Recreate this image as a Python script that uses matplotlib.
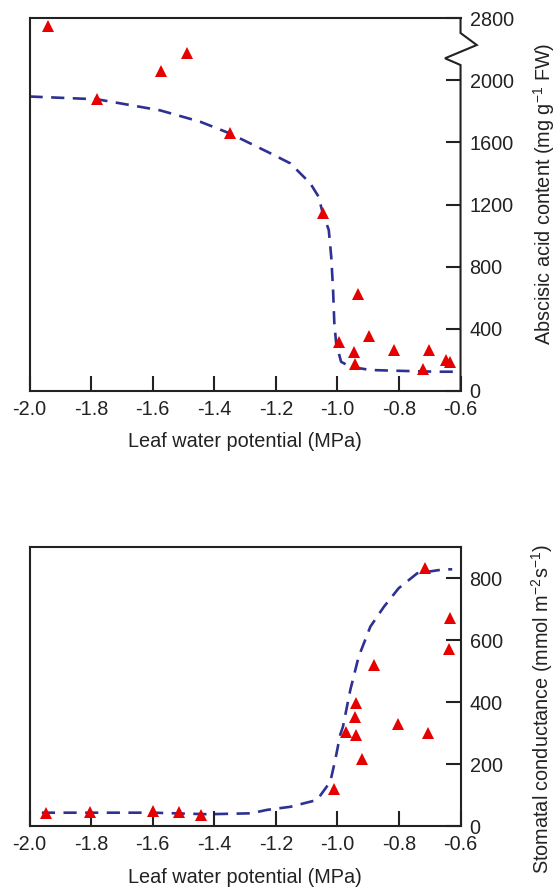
import numpy as np
import matplotlib
matplotlib.use("Agg")
import matplotlib.pyplot as plt

plt.rcParams['font.family'] = ['Liberation Sans', 'DejaVu Sans']
plt.rcParams['mathtext.fontset'] = 'custom'
plt.rcParams['mathtext.rm'] = 'Liberation Sans'
plt.rcParams['mathtext.it'] = 'Liberation Sans:italic'
plt.rcParams['axes.unicode_minus'] = False

# ---- data: top panel (abscisic acid) ----
aba_x = [-1.941, -1.780, -1.573, -1.489, -1.350, -1.048, -0.996, -0.947, -0.944,
         -0.934, -0.898, -0.817, -0.723, -0.703, -0.646, -0.635]
aba_y = [2697, 1877, 2118, 2354, 1658, 1147, 313, 249, 174,
         622, 356, 264, 142, 264, 200, 187]
aba_fit_x = [-2.0, -1.78, -1.576, -1.446, -1.35, -1.217, -1.153, -1.088, -1.061,
             -1.048, -1.028, -1.020, -1.014, -1.010, -1.004, -0.988, -0.958,
             -0.893, -0.785, -0.676, -0.6]
aba_fit_y = [1895, 1877, 1806, 1733, 1658, 1529, 1465, 1336, 1250,
             1147, 1036, 864, 650, 438, 307, 188, 156,
             135, 129, 124, 124]

# ---- data: bottom panel (stomatal conductance) ----
gs_x = [-1.947, -1.803, -1.599, -1.514, -1.443, -1.012, -0.971, -0.944, -0.938,
        -0.938, -0.920, -0.882, -0.804, -0.717, -0.706, -0.639, -0.633]
gs_y = [43, 46, 49, 46, 36, 118, 304, 353, 398,
        294, 215, 519, 329, 831, 299, 571, 670]
gs_fit_x = [-1.96, -1.80, -1.60, -1.42, -1.28, -1.229, -1.153, -1.066, -1.023,
            -1.007, -0.991, -0.982, -0.958, -0.931, -0.893, -0.849, -0.801,
            -0.741, -0.654, -0.627]
gs_fit_y = [43, 43, 43, 38, 41, 52, 62, 84, 143,
            213, 294, 320, 439, 546, 643, 707, 767,
            815, 828, 828]

x_ticks = [-2.0, -1.8, -1.6, -1.4, -1.2, -1.0, -0.8, -0.6]
aba_ticks = [0, 400, 800, 1200, 1600, 2000, 2800]
gs_ticks = [0, 200, 400, 600, 800]

RED = '#e60000'
BLUE = '#2e3192'
FS = 14.3

fig = plt.figure(figsize=(5.56, 8.88), dpi=100)
ax1 = fig.add_axes([0.0531, 0.5597, 0.7752, 0.42])
ax2 = fig.add_axes([0.0531, 0.0698, 0.7752, 0.3142])


def fwd(v):
    v = np.asarray(v, dtype=float)
    return np.where(v <= 2000, v, 2000 + (v - 2000) / 2.0)


def inv(u):
    u = np.asarray(u, dtype=float)
    return np.where(u <= 2000, u, 2000 + (u - 2000) * 2.0)


ax1.set_yscale('function', functions=(fwd, inv))

for ax in (ax1, ax2):
    for s in ax.spines.values():
        s.set_linewidth(1.5)
        s.set_color('#222222')
    ax.yaxis.tick_right()
    ax.yaxis.set_label_position('right')
    ax.tick_params(axis='both', which='both', direction='in', length=11,
                   width=1.5, color='#222222', labelsize=FS, labelcolor='#222222',
                   top=False, left=False, right=True, bottom=True, pad=6.5)
    ax.set_xlim(-2.0, -0.6)
    ax.set_xticks(x_ticks)
    ax.set_xticklabels(['%.1f' % t for t in x_ticks])
    ax.set_xlabel('Leaf water potential (MPa)', fontsize=FS, color='#222222')
    ax.minorticks_off()

# top panel
ax1.plot(aba_fit_x, aba_fit_y, color=BLUE, lw=1.9, dashes=(5.0, 3.2), zorder=2,
         clip_on=False)
ax1.plot(aba_x, aba_y, linestyle='none', marker='^', ms=8.5, color=RED,
         markeredgewidth=0, zorder=3, clip_on=False)
ax1.set_ylim(0, 2800)
ax1.set_yticks(aba_ticks)
ax1.set_yticklabels([str(t) for t in aba_ticks])
ax1.minorticks_off()
ax1.set_ylabel('Abscisic acid content (mg g$^{-1}$ FW)', fontsize=FS,
               color='#222222')
ax1.yaxis.set_label_coords(1.163, 0.53)
ax1.xaxis.set_label_coords(0.5, -0.11)

# broken right spine with zigzag
ax1.spines['right'].set_visible(False)
ax1.plot([1.0, 1.0, 0.964, 1.0376, 1.0, 1.0],
         [0.0, 0.874, 0.892, 0.9276, 0.9598, 1.0],
         transform=ax1.transAxes, color='#222222', lw=1.5, clip_on=False,
         solid_joinstyle='miter', zorder=5)

# bottom panel
ax2.plot(gs_fit_x, gs_fit_y, color=BLUE, lw=1.9, dashes=(5.0, 3.2), zorder=2,
         clip_on=False)
ax2.plot(gs_x, gs_y, linestyle='none', marker='^', ms=8.5, color=RED,
         markeredgewidth=0, zorder=3, clip_on=False)
ax2.set_ylim(0, 900)
ax2.set_yticks(gs_ticks)
ax2.set_ylabel('Stomatal conductance (mmol m$^{-2}$s$^{-1}$)', fontsize=FS,
               color='#222222')
ax2.yaxis.set_label_coords(1.158, 0.42)
ax2.xaxis.set_label_coords(0.5, -0.15)

fig.savefig('out.png', dpi=100)
